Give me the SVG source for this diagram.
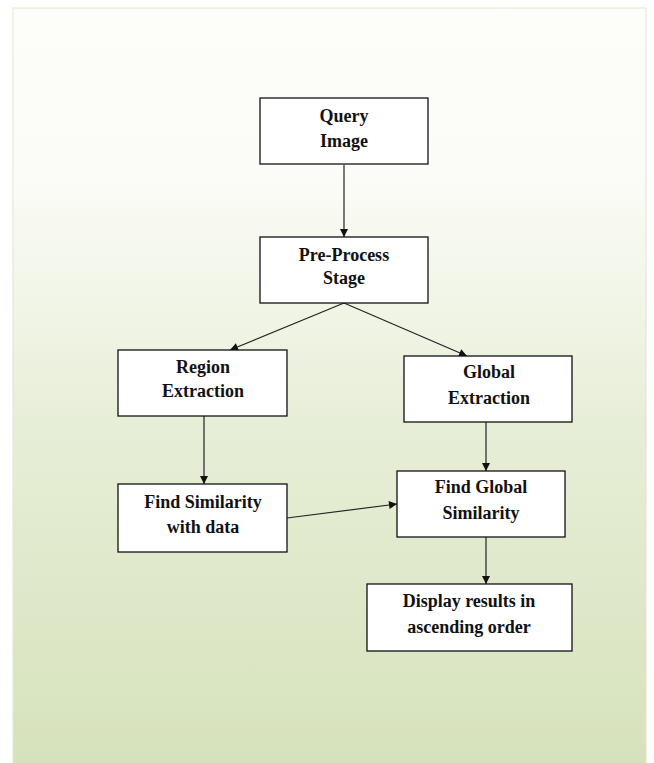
<svg xmlns="http://www.w3.org/2000/svg" width="654" height="763" viewBox="0 0 654 763">
<defs>
<linearGradient id="bg" x1="0" y1="0" x2="0" y2="1">
<stop offset="0" stop-color="#fdfdfa"/>
<stop offset="0.22" stop-color="#fbfcf7"/>
<stop offset="0.55" stop-color="#e7eed7"/>
<stop offset="1" stop-color="#d6e2bb"/>
</linearGradient>
<marker id="arr" viewBox="0 0 10 10" refX="10" refY="5" markerWidth="9" markerHeight="8" markerUnits="userSpaceOnUse" orient="auto">
<path d="M0,0 L10,5 L0,10 z" fill="#111"/>
</marker>
<style>
.box{fill:#ffffff;stroke:#111;stroke-width:1.3}
.t{font-family:"Liberation Serif","DejaVu Serif",serif;font-weight:bold;font-size:18px;fill:#111;text-anchor:middle}
.c{stroke:#222;stroke-width:1.2;fill:none;marker-end:url(#arr)}
</style>
</defs>
<rect x="13" y="8" width="633" height="760" fill="url(#bg)" stroke="#dfe5cf" stroke-width="1"/>
<g id="connectors">
<line class="c" x1="344" y1="165" x2="344" y2="237"/>
<line class="c" x1="344" y1="303" x2="230" y2="350"/>
<line class="c" x1="344" y1="303" x2="467" y2="356"/>
<line class="c" x1="204" y1="416" x2="204" y2="484"/>
<line class="c" x1="486" y1="422" x2="486" y2="471"/>
<line class="c" x1="287" y1="518" x2="397" y2="504"/>
<line class="c" x1="486" y1="537" x2="486" y2="584"/>
</g>
<g id="query">
<rect class="box" x="260" y="98" width="168" height="66"/>
<text class="t" x="344" y="122">Query</text>
<text class="t" x="344" y="147">Image</text>
</g>
<g id="preprocess">
<rect class="box" x="260" y="237" width="168" height="66"/>
<text class="t" x="344" y="261">Pre-Process</text>
<text class="t" x="344" y="284">Stage</text>
</g>
<g id="region">
<rect class="box" x="118" y="350" width="169" height="66"/>
<text class="t" x="203" y="373">Region</text>
<text class="t" x="203" y="397">Extraction</text>
</g>
<g id="global">
<rect class="box" x="404" y="356" width="168" height="66"/>
<text class="t" x="489" y="378">Global</text>
<text class="t" x="489" y="404">Extraction</text>
</g>
<g id="findsim">
<rect class="box" x="118" y="484" width="169" height="68"/>
<text class="t" x="203" y="508">Find Similarity</text>
<text class="t" x="203" y="533">with data</text>
</g>
<g id="findglobal">
<rect class="box" x="397" y="471" width="168" height="66"/>
<text class="t" x="481" y="493">Find Global</text>
<text class="t" x="481" y="519">Similarity</text>
</g>
<g id="display">
<rect class="box" x="367" y="584" width="205" height="67"/>
<text class="t" x="469" y="607">Display results in</text>
<text class="t" x="469" y="633">ascending order</text>
</g>
</svg>
